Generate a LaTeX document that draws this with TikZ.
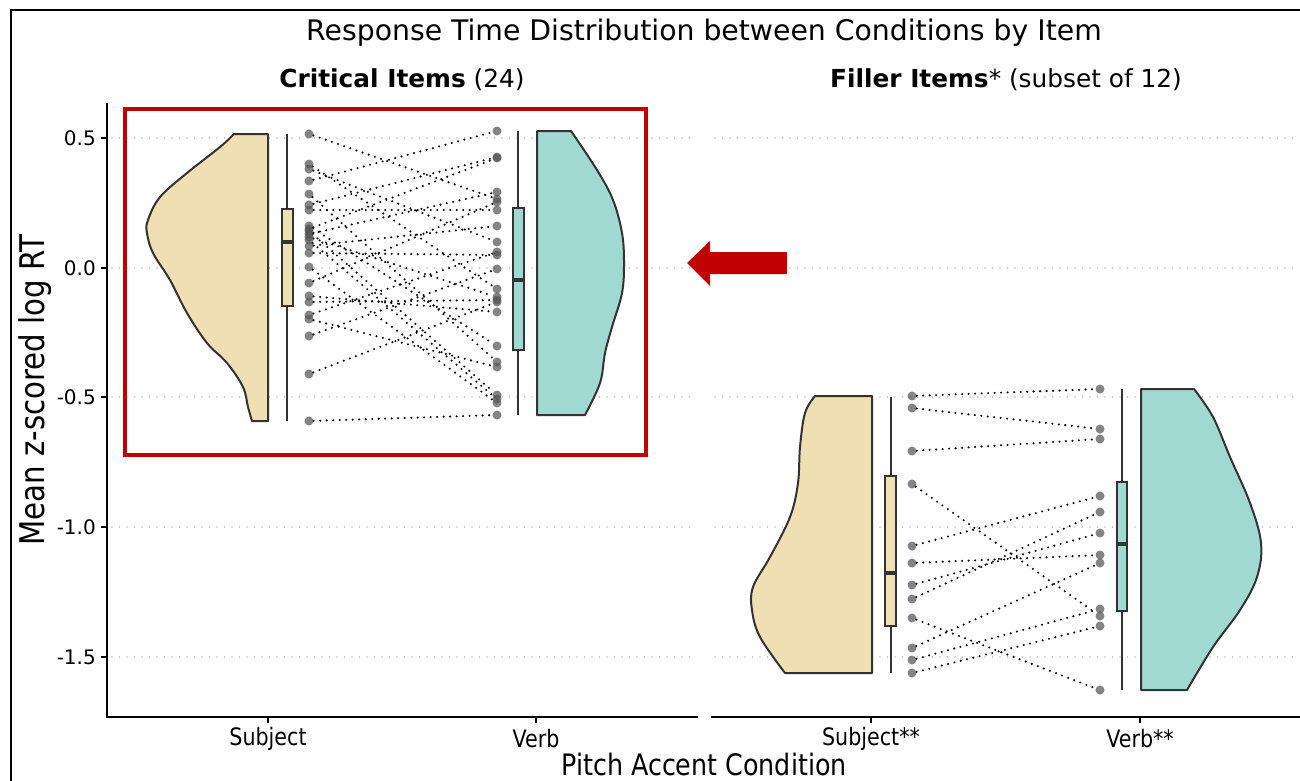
\documentclass[tikz,border=0pt]{standalone}
\usepackage{fontspec}
\setmainfont{DejaVu Sans}
\newfontfamily\narrowfont[FakeStretch=0.86]{DejaVu Sans}
\definecolor{subjfill}{RGB}{239,223,178}
\definecolor{verbfill}{RGB}{160,216,210}
\definecolor{outline}{RGB}{51,51,51}
\definecolor{gridgray}{RGB}{190,190,190}
\definecolor{hilite}{RGB}{192,0,0}
\definecolor{dotgray}{RGB}{85,85,85}
\tikzset{
  violin/.style={draw=outline, line width=2pt, line join=round},
  boxstyle/.style={draw=outline, line width=2pt},
  whisker/.style={draw=outline, line width=1.8pt},
  median/.style={draw=outline, line width=3.5pt},
  grid line/.style={gridgray, line width=1.8pt, line cap=round, dash pattern=on 0pt off 7.5pt},
  pair line/.style={black, line width=2.3pt, line cap=round, dash pattern=on 0pt off 6.5pt},
  item dot/.style={circle, fill=dotgray, fill opacity=0.72, inner sep=0pt, minimum size=9pt},
  axis line/.style={black, line width=1.6pt},
  tick label/.style={font=\fontsize{20}{20}\selectfont},
  cat label/.style={font=\narrowfont\fontsize{24}{24}\selectfont},
}
\begin{document}
\begin{tikzpicture}[x=1pt,y=-1pt]
\useasboundingbox (0,0) rectangle (1300,780);
\clip (0,0) rectangle (1300,780);
\fill[white] (0,0) rectangle (1300,780);
% outer frame
\draw[black, line width=2.8pt] (11,800) -- (11,10) -- (1320,10);

% dotted grid lines of both panels
\foreach \yy in {138,268,397,527,657} {
  \draw[grid line] (112,\yy) -- (697,\yy);
  \draw[grid line] (715,\yy) -- (1300,\yy);
}

% axes
\draw[axis line] (107,103) -- (107,717) -- (698,717);
\draw[axis line] (711,717) -- (1305,717);
\foreach \yy/\lab in {138/0.5,268/0.0,397/-0.5,527/-1.0,657/-1.5} {
  \draw[axis line] (101,\yy) -- (107,\yy);
  \node[tick label, anchor=east, inner sep=0pt] (ytick\yy) at (96,\yy) {\lab};
}
\foreach \xx in {268,536,871,1140} {
  \draw[axis line] (\xx,717) -- (\xx,723);
}
\node[cat label] (xsubj) at (268,739) {Subject};
\node[cat label] (xverb) at (536,739) {Verb};
\node[cat label] (xsubjf) at (871,739) {Subject**};
\node[cat label] (xverbf) at (1140,739) {Verb**};

% titles
\node[font=\fontsize{28.3}{28.3}\selectfont] (title) at (704,33) {Response Time Distribution between Conditions by Item};
\node[font=\fontsize{24.8}{24.8}\selectfont] (stripcrit) at (402,80) {\textbf{Critical Items} (24)};
\node[font=\fontsize{24.8}{24.8}\selectfont] (stripfill) at (1006,80) {\textbf{Filler Items}* (subset of 12)};
\node[font=\narrowfont\fontsize{34}{34}\selectfont, rotate=90] (ylab) at (35,390) {Mean z-scored log RT};
\node[font=\narrowfont\fontsize{29.5}{29.5}\selectfont, inner sep=1pt] (xlab) at (704,764) {Pitch Accent Condition};

% half violins
\filldraw[violin, fill=subjfill] (268,421) -- (268,134) -- (234,134)
  -- plot[smooth, tension=0.6] coordinates {(234,134) (220,147) (187,173) (160,197) (148,220) (147,233) (153,253) (170,280) (187,313) (207,343) (227,363) (243,387) (248,407) (252,421)} -- cycle;
\filldraw[violin, fill=verbfill] (537,415) -- (537,131) -- (571,131)
  -- plot[smooth, tension=0.6] coordinates {(571,131) (597,170) (613,200) (622,233) (624,263) (622,293) (612,327) (605,353) (600,383) (585,415)} -- cycle;
\filldraw[violin, fill=subjfill] (872,673) -- (872,396) -- (815,396)
  -- plot[smooth, tension=0.6] coordinates {(815,396) (805,413) (800,447) (798,483) (790,517) (770,557) (753,587) (752,610) (760,637) (785,673)} -- cycle;
\filldraw[violin, fill=verbfill] (1141,690) -- (1141,389) -- (1194,389)
  -- plot[smooth, tension=0.6] coordinates {(1194,389) (1213,417) (1230,457) (1250,503) (1261,543) (1257,577) (1240,610) (1213,647) (1187,690)} -- cycle;

% box plots
\draw[whisker] (287,134) -- (287,421);
\filldraw[boxstyle, fill=subjfill] (282,209) rectangle (293,306);
\draw[median] (282,242) -- (293,242);
\draw[whisker] (518,131) -- (518,415);
\filldraw[boxstyle, fill=verbfill] (513,208) rectangle (524,350);
\draw[median] (513,280) -- (524,280);
\draw[whisker] (891,397) -- (891,673);
\filldraw[boxstyle, fill=subjfill] (885,476) rectangle (896,626);
\draw[median] (885,573) -- (896,573);
\draw[whisker] (1122,389) -- (1122,690);
\filldraw[boxstyle, fill=verbfill] (1117,482) rectangle (1127,611);
\draw[median] (1117,544) -- (1127,544);

% critical items, paired by item
\foreach \i/\sy/\vy in {1/134/199, 2/164/289, 3/169/242, 4/181/131, 5/194/362, 6/205/157,
  7/210/210, 8/226/346, 9/229/158, 10/231/395, 11/234/192, 12/237/297, 13/240/399,
  14/246/226, 15/253/255, 16/267/403, 17/283/202, 18/296/312, 19/302/300, 20/315/252,
  21/319/367, 22/336/269, 23/374/302, 24/421/415} {
  \node[item dot] (cs\i) at (309,\sy) {};
  \node[item dot] (cv\i) at (497,\vy) {};
  \draw[pair line] (cs\i) -- (cv\i);
}
% filler items, paired by item
\foreach \i/\sy/\vy in {1/396/389, 2/408/429, 3/451/439, 4/484/616, 5/546/496, 6/563/555,
  7/585/533, 8/599/512, 9/618/690, 10/648/563, 11/660/609, 12/673/626} {
  \node[item dot] (fs\i) at (912,\sy) {};
  \node[item dot] (fv\i) at (1100,\vy) {};
  \draw[pair line] (fs\i) -- (fv\i);
}

% highlight frame and pointer
\draw[hilite, line width=3.8pt] (125,109) rectangle (646,455);
\fill[hilite] (787,252) -- (710,252) -- (710,241) -- (687,263) -- (710,286) -- (710,274) -- (787,274) -- cycle;
\end{tikzpicture}
\end{document}
